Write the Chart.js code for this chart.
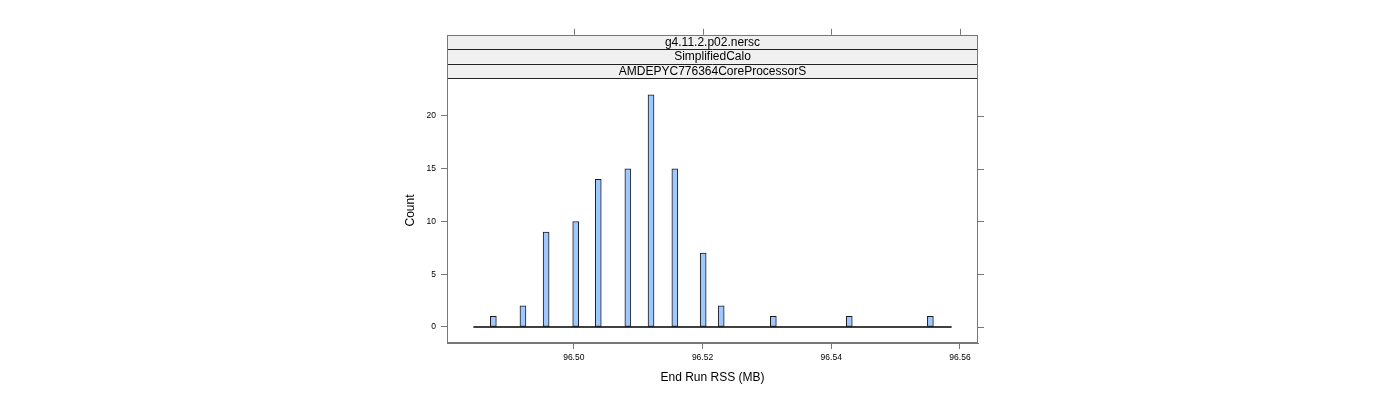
<!DOCTYPE html>
<html>
<head>
<meta charset="utf-8">
<script src="https://cdn.jsdelivr.net/npm/chart.js@4"></script>
<style>
  html, body { margin: 0; padding: 0; background: #fff; }
  canvas { display: block; }
</style>
</head>
<body>
<canvas id="hist" width="1400" height="400"></canvas>
<script>
// histogram bins (bin centre in MB) and counts
var binCenters = [96.4875, 96.4921, 96.4957, 96.5003, 96.5038, 96.5084, 96.5120, 96.5157, 96.5201, 96.5229, 96.5310, 96.5428, 96.5554];
var counts = [1, 2, 9, 10, 14, 15, 22, 15, 7, 2, 1, 1, 1];
// full histogram range (empty bins drawn as a flat line)
var histRange = [96.4844, 96.5587];
var xTicks = [96.50, 96.52, 96.54, 96.56];
var yTicks = [0, 5, 10, 15, 20];
var stripLabels = ['g4.11.2.p02.nersc', 'SimplifiedCalo', 'AMDEPYC776364CoreProcessorS'];

var FONT = "'Liberation Sans', Arial, sans-serif";

var barData = binCenters.map(function (x, i) { return { x: x, y: counts[i] }; });
var baseData = histRange.map(function (x) { return { x: x, y: 0 }; });

// strips, mirrored ticks and full frame
var latticePlugin = {
    id: 'lattice',
    afterDraw: function (chart) {
        var ctx = chart.ctx;
        var a = chart.chartArea;
        var xs = chart.scales.x, ys = chart.scales.y;
        var stripH = 14.4;
        var top0 = a.top - stripH * stripLabels.length;
        ctx.save();
        // strips
        for (var i = 0; i < stripLabels.length; i++) {
            var y0 = top0 + i * stripH;
            ctx.fillStyle = '#f0f0f0';
            ctx.fillRect(a.left, y0, a.right - a.left, stripH);
        }
        ctx.strokeStyle = '#222';
        ctx.lineWidth = 1;
        for (var j = 1; j <= stripLabels.length; j++) {
            var yl = Math.round(top0 + j * stripH) + 0.5;
            ctx.beginPath();
            ctx.moveTo(a.left, yl);
            ctx.lineTo(a.right, yl);
            ctx.stroke();
        }
        ctx.fillStyle = '#000';
        ctx.font = '12px ' + FONT;
        ctx.textAlign = 'center';
        ctx.textBaseline = 'middle';
        for (var k = 0; k < stripLabels.length; k++) {
            ctx.fillText(stripLabels[k], (a.left + a.right) / 2, top0 + k * stripH + stripH / 2 + 0.5);
        }
        // frame
        ctx.strokeStyle = '#777';
        ctx.strokeRect(Math.round(a.left) + 0.5, Math.round(top0) + 0.5,
            Math.round(a.right - a.left) - 1, Math.round(a.bottom - top0) - 1);
        // top ticks
        xTicks.forEach(function (v) {
            var px = Math.round(xs.getPixelForValue(v)) + 0.5;
            ctx.beginPath();
            ctx.moveTo(px, top0 - 6);
            ctx.lineTo(px, top0);
            ctx.stroke();
        });
        // right ticks
        yTicks.forEach(function (v) {
            var py = Math.round(ys.getPixelForValue(v)) + 0.5;
            ctx.beginPath();
            ctx.moveTo(a.right, py);
            ctx.lineTo(a.right + 6, py);
            ctx.stroke();
        });
        ctx.restore();
    }
};

var ctxHist = document.getElementById('hist').getContext('2d');
var histChart = new Chart(ctxHist, {
    type: 'bar',
    data: {
        datasets: [{
            type: 'line',
            data: baseData,
            borderColor: '#000',
            borderWidth: 1.5,
            pointRadius: 0,
            fill: false,
            order: 0
        }, {
            label: 'Count',
            data: barData,
            backgroundColor: '#9ec8ff',
            borderColor: '#1a1a1a',
            borderWidth: 1,
            borderSkipped: false,
            barThickness: 6,
            order: 1
        }]
    },
    options: {
        responsive: false,
        animation: false,
        devicePixelRatio: 1,
        layout: { padding: { left: 0, top: 78, right: 422, bottom: 0 } },
        plugins: {
            legend: { display: false },
            tooltip: { enabled: false }
        },
        scales: {
            x: {
                type: 'linear',
                min: 96.4803,
                max: 96.5628,
                offset: false,
                afterBuildTicks: function (s) { s.ticks = xTicks.map(function (v) { return { value: v }; }); },
                afterFit: function (s) { s.height = 57; },
                ticks: {
                    color: '#000',
                    padding: 4,
                    maxRotation: 0,
                    font: { family: FONT, size: 8.5 },
                    callback: function (v) { return Number(v).toFixed(2); }
                },
                grid: { drawOnChartArea: false, offset: false, tickLength: 6, color: '#777' },
                border: { display: true, color: '#777' },
                title: {
                    display: true,
                    text: 'End Run RSS (MB)',
                    color: '#000',
                    font: { family: FONT, size: 12 },
                    padding: { top: 0, bottom: 15 }
                }
            },
            y: {
                min: -1.517,
                max: 23.6,
                afterBuildTicks: function (s) { s.ticks = yTicks.map(function (v) { return { value: v }; }); },
                afterFit: function (s) { s.width = 447; },
                ticks: {
                    color: '#000',
                    padding: 5,
                    font: { family: FONT, size: 8.5 }
                },
                grid: { drawOnChartArea: false, tickLength: 6, color: '#777' },
                border: { display: true, color: '#777' },
                title: {
                    display: true,
                    text: 'Count',
                    color: '#000',
                    font: { family: FONT, size: 12 },
                    padding: { top: 403, bottom: 0 }
                }
            }
        }
    },
    plugins: [latticePlugin]
});
</script>
</body>
</html>
